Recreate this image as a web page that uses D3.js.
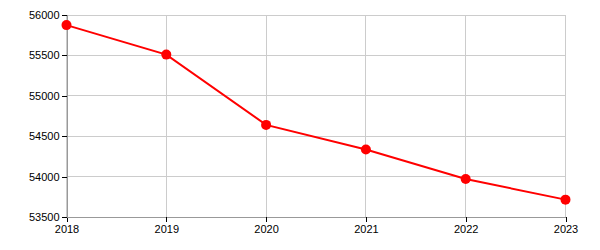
<!DOCTYPE html>
<html lang="en">
  <head>
    <meta charset="utf-8" />
    <title>line</title>
    <script src="https://d3js.org/d3.v7.min.js"></script>
    <style>
      body { margin: 0; padding: 0; background: #fff; }
      svg { display: block; font-family: "Liberation Sans", Arial, sans-serif; }
      .grid line { stroke: #ccc; stroke-width: 1; shape-rendering: crispEdges; }
      .axis path { stroke: #999; shape-rendering: crispEdges; }
      .axis line { stroke: #000; shape-rendering: crispEdges; }
      .axis text { font-size: 11px; fill: #000; }
    </style>
  </head>
  <body>
    <svg id="chart" width="600" height="250"></svg>
    <script>
      var years = [2018, 2019, 2020, 2021, 2022, 2023];
      var values = [55875, 55510, 54640, 54335, 53970, 53715];
      var yTicks = [53500, 54000, 54500, 55000, 55500, 56000];

      var svg = d3.select("#chart");
      var margin = {top: 15, right: 35, bottom: 33, left: 66};
      var width = 600 - margin.left - margin.right;
      var height = 250 - margin.top - margin.bottom;

      var g = svg.append("g")
        .attr("transform", "translate(" + (margin.left + 0.5) + "," + margin.top + ")");

      var x = d3.scaleLinear().domain([2018, 2023]).range([0, width]);
      var y = d3.scaleLinear().domain([53500, 56000]).range([height, 0]);

      // grid
      var grid = g.append("g").attr("class", "grid");
      grid.selectAll(".v").data(years).enter().append("line")
        .attr("x1", function(d){ return x(d); })
        .attr("x2", function(d){ return x(d); })
        .attr("y1", 0).attr("y2", height);
      grid.selectAll(".h").data(yTicks).enter().append("line")
        .attr("x1", 0).attr("x2", width)
        .attr("y1", function(d){ return y(d); })
        .attr("y2", function(d){ return y(d); });

      g.append("g")
        .attr("class", "axis")
        .attr("transform", "translate(0," + height + ")")
        .call(d3.axisBottom(x).tickValues(years).tickFormat(d3.format("d")).tickSizeOuter(0).tickSize(5));

      g.append("g")
        .attr("class", "axis")
        .call(d3.axisLeft(y).tickValues(yTicks).tickFormat(d3.format("d")).tickSizeOuter(0).tickSize(5).tickPadding(2));

      var line = d3.line()
        .x(function(d, i){ return x(years[i]); })
        .y(function(d){ return y(d); });

      g.append("path")
        .datum(values)
        .attr("fill", "none")
        .attr("stroke", "red")
        .attr("stroke-width", 2)
        .attr("d", line);

      g.selectAll(".dot").data(values).enter().append("circle")
        .attr("cx", function(d, i){ return x(years[i]); })
        .attr("cy", function(d){ return y(d); })
        .attr("r", 5)
        .attr("fill", "red");
    </script>
  </body>
</html>
